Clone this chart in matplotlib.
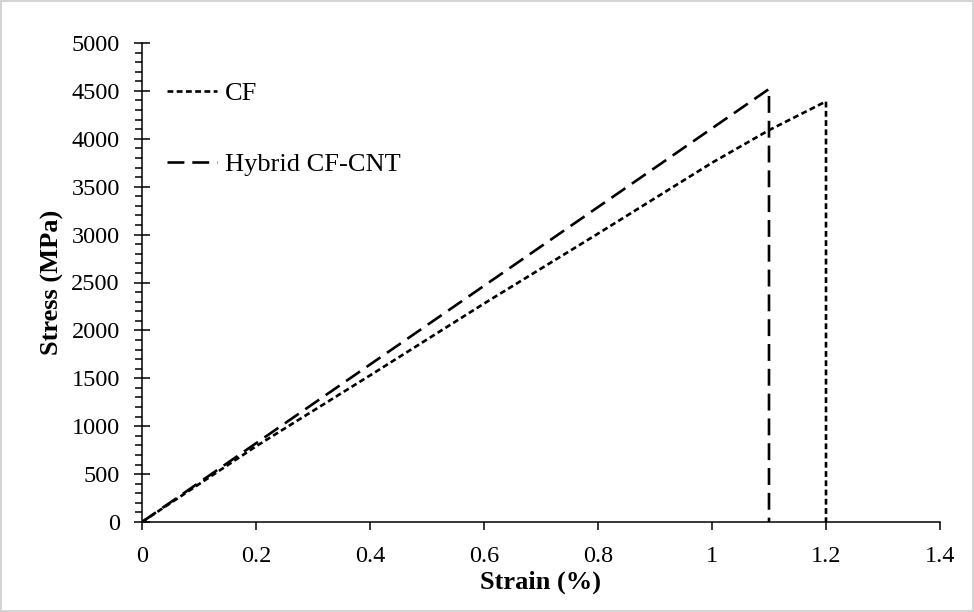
import matplotlib
matplotlib.use("Agg")
import matplotlib.pyplot as plt
from matplotlib.ticker import MultipleLocator

plt.rcParams["font.family"] = ["Liberation Serif", "DejaVu Serif"]

# stress-strain data
cf_strain = [0.0, 0.2, 0.4, 0.6, 0.8, 1.0, 1.1, 1.2, 1.2]
cf_stress = [0, 790, 1530, 2280, 3010, 3750, 4090, 4390, 0]
hyb_strain = [0.0, 1.1, 1.1]
hyb_stress = [0, 4520, 0]

x_ticks = [0, 0.2, 0.4, 0.6, 0.8, 1.0, 1.2, 1.4]
x_labels = ["0", "0.2", "0.4", "0.6", "0.8", "1", "1.2", "1.4"]
y_ticks = list(range(0, 5001, 500))

fig = plt.figure(figsize=(9.74, 6.12), dpi=100)
fig.patch.set_edgecolor("#d4d4d4")
fig.patch.set_linewidth(1.5)
ax = fig.add_axes([142 / 974, 90 / 612, 798 / 974, 479 / 612])

ax.plot(cf_strain, cf_stress, color="black", lw=1.9, dashes=(2.2, 1.3), label="CF")
ax.plot(hyb_strain, hyb_stress, color="black", lw=1.9, dashes=(6.4, 3.0), label="Hybrid CF-CNT")

ax.set_xlim(0, 1.4)
ax.set_ylim(0, 5000)
ax.set_xticks(x_ticks)
ax.set_xticklabels(x_labels)
ax.set_yticks(y_ticks)
ax.yaxis.set_minor_locator(MultipleLocator(100))

for side in ("top", "right"):
    ax.spines[side].set_visible(False)
for side in ("left", "bottom"):
    ax.spines[side].set_linewidth(1.1)

ax.tick_params(axis="x", which="major", direction="out", length=6, width=1.1,
               pad=11, labelsize=17.5)
ax.tick_params(axis="y", which="major", direction="inout", length=12, width=1.1,
               pad=10, labelsize=17.5)
ax.tick_params(axis="y", which="minor", direction="out", length=5, width=1.1)

ax.set_xlabel("Strain (%)", fontsize=19, fontweight="bold", va="center")
ax.xaxis.set_label_coords(0.5, -0.125)
ax.set_ylabel("Stress (MPa)", fontsize=19, fontweight="bold", va="center")
ax.yaxis.set_label_coords(-0.112, 0.5)

ax.legend(loc="upper left", bbox_to_anchor=(0.031, 0.92), frameon=False,
          fontsize=19, handlelength=1.9, handletextpad=0.3, labelspacing=1.8,
          borderpad=0, borderaxespad=0)

fig.savefig("out.png", dpi=100)
